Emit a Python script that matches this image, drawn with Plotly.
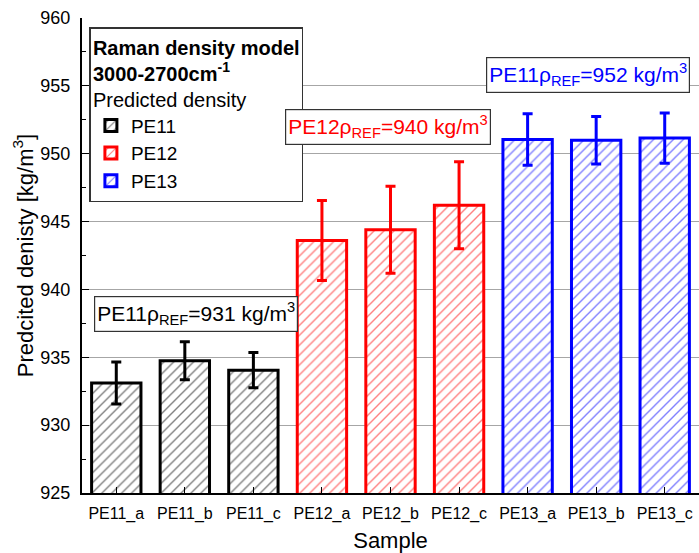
import plotly.graph_objects as go

samples = ["PE11_a", "PE11_b", "PE11_c", "PE12_a", "PE12_b", "PE12_c",
           "PE13_a", "PE13_b", "PE13_c"]
density = [933.1, 934.75, 934.05, 943.6, 944.4, 946.2, 951.05, 951.0, 951.15]
density_err = [1.55, 1.4, 1.3, 2.95, 3.2, 3.2, 1.9, 1.75, 1.85]

groups = ["PE11", "PE12", "PE13"]
group_colors = ["#000000", "#ff0000", "#0000ff"]

FONT = "Liberation Sans, Arial, sans-serif"

fig = go.Figure()

for i, (name, col) in enumerate(zip(groups, group_colors)):
    sl = slice(3 * i, 3 * i + 3)
    fig.add_trace(go.Bar(
        name=name,
        x=samples[sl],
        y=density[sl],
        width=0.72,
        marker=dict(
            color="white",
            line=dict(color=col, width=3),
            pattern=dict(shape="/", fgcolor=col, bgcolor="white", size=7, solidity=0.2),
        ),
        error_y=dict(type="data", array=density_err[sl], color=col, thickness=3, width=5),
    ))

# boxed reference annotations (text as in the original figure)
ref_labels = [
    ("PE11ρ<sub>REF</sub>=931 kg/m<sup>3</sup>", "#000000", 1.17, 938.2),
    ("PE12ρ<sub>REF</sub>=940 kg/m<sup>3</sup>", "#ff0000", 3.96, 952.0),
    ("PE11ρ<sub>REF</sub>=952 kg/m<sup>3</sup>", "#0000ff", 6.88, 955.8),
]
for txt, col, xa, ya in ref_labels:
    fig.add_annotation(
        x=xa, y=ya, xref="x", yref="y", text=txt, showarrow=False,
        font=dict(family=FONT, size=21, color=col),
        bgcolor="white", bordercolor="#333333", borderwidth=1.2, borderpad=2,
    )

fig.update_layout(
    width=699,
    height=553,
    margin=dict(l=82, r=0, t=18, b=60),
    paper_bgcolor="white",
    plot_bgcolor="white",
    font=dict(family=FONT, color="black"),
    barmode="overlay",
    legend=dict(
        x=0.012, y=0.981, xanchor="left", yanchor="top",
        bgcolor="white", bordercolor="#333333", borderwidth=1.5,
        font=dict(size=19),
        title=dict(
            text="<b>Raman density model</b><br><b>3000-2700cm<sup>-1</sup></b><br>Predicted density",
            font=dict(size=20), side="top",
        ),
        tracegroupgap=0,
    ),
)

fig.update_xaxes(
    title=dict(text="Sample", font=dict(size=22), standoff=10),
    categoryorder="array", categoryarray=samples,
    range=[-0.5, 8.5],
    tickfont=dict(size=16),
    ticklabelstandoff=5,
    showline=True, linecolor="black", linewidth=2,
    ticks="inside", ticklen=6, tickcolor="black",
    showgrid=False,
)
fig.update_yaxes(
    title=dict(text="Predcited denisty [kg/m<sup>3</sup>]", font=dict(size=22), standoff=1),
    range=[925, 960],
    tickvals=[925, 930, 935, 940, 945, 950, 955, 960],
    tickfont=dict(size=18),
    ticklabelstandoff=6,
    showline=True, linecolor="black", linewidth=2,
    ticks="inside", ticklen=7, tickcolor="black",
    minor=dict(dtick=2.5, ticks="inside", ticklen=4, tickcolor="black"),
    showgrid=True, gridcolor="#a6a6a6", gridwidth=1.3,
    zeroline=False,
)

fig.write_html(
    "out.html",
    config={"displayModeBar": False},
    post_script="document.body.style.margin='0';document.body.style.overflow='hidden';",
)
